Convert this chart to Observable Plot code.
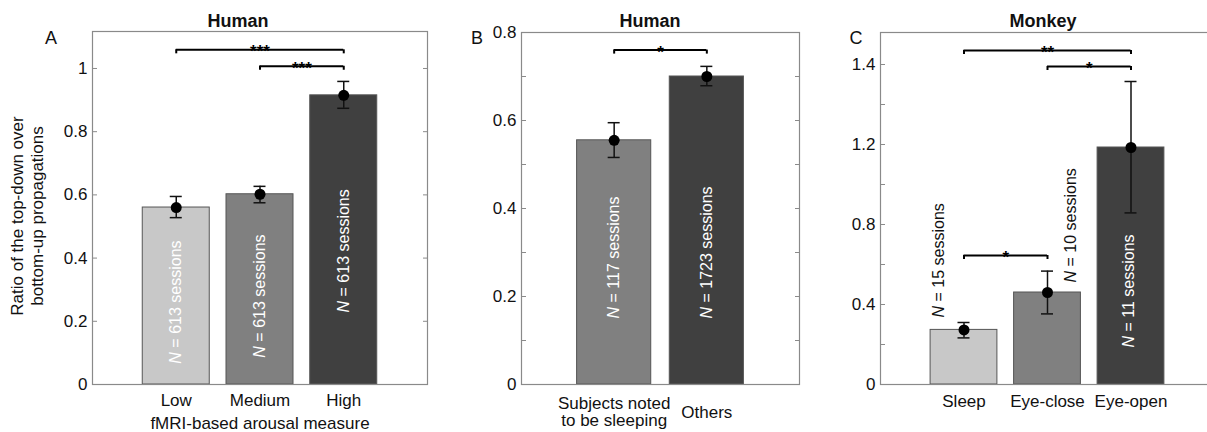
<!DOCTYPE html>
<html>
<head>
<meta charset="utf-8">
<script src="https://cdn.jsdelivr.net/npm/d3@7"></script>
<script src="https://cdn.jsdelivr.net/npm/@observablehq/plot@0.6"></script>
<style>
  html, body { margin: 0; padding: 0; background: #fff; overflow: hidden; }
  #root { position: relative; width: 1207px; height: 432px; overflow: hidden; background: #fff;
          font-family: "Liberation Sans", Arial, Helvetica, sans-serif; color: #111; }
  .panel { position: absolute; top: 0; height: 432px; }
  .panel svg { max-width: none !important; display: block; }
  .ov { position: absolute; white-space: nowrap; transform: translate(-50%, -50%); }
  .title { font-weight: bold; font-size: 18px; }
  .letter { font-size: 18px; }
  .ytitle { font-size: 17px; line-height: 20px; text-align: center; transform: translate(-50%, -50%) rotate(-90deg); }
</style>
</head>
<body>
<div id="root"></div>
<script>
// ---------------- data ----------------
// Panel A: Human, fMRI-based arousal measure
const A_categories = ["Low", "Medium", "High"];
const A_means      = [0.560, 0.602, 0.915];
const A_errLow     = [0.528, 0.575, 0.874];
const A_errHigh    = [0.595, 0.627, 0.959];
const A_counts     = ["N = 613 sessions", "N = 613 sessions", "N = 613 sessions"];
const A_tickValues = [0, 0.2, 0.4, 0.6, 0.8, 1];
const A_tickLabels = ["0", "0.2", "0.4", "0.6", "0.8", "1"];
const A_bracketFrom  = ["Low", "Medium"];
const A_bracketTo    = ["High", "High"];
const A_bracketY     = [1.059, 1.007];
const A_bracketStars = ["***", "***"];

// Panel B: Human, sleeping vs others
const B_categories = ["Subjects noted\nto be sleeping", "Others"];
const B_means      = [0.555, 0.700];
const B_errLow     = [0.516, 0.679];
const B_errHigh    = [0.595, 0.723];
const B_counts     = ["N = 117 sessions", "N = 1723 sessions"];
const B_tickValues = [0, 0.1, 0.2, 0.3, 0.4, 0.5, 0.6, 0.7, 0.8];
const B_tickLabels = ["0", "", "0.2", "", "0.4", "", "0.6", "", "0.8"];
const B_bracketFrom  = ["Subjects noted\nto be sleeping"];
const B_bracketTo    = ["Others"];
const B_bracketY     = [0.76];
const B_bracketStars = ["*"];

// Panel C: Monkey
const C_categories = ["Sleep", "Eye-close", "Eye-open"];
const C_means      = [0.273, 0.460, 1.185];
const C_errLow     = [0.233, 0.353, 0.858];
const C_errHigh    = [0.310, 0.567, 1.515];
const C_counts     = ["N = 15 sessions", "N = 10 sessions", "N = 11 sessions"];
const C_tickValues = [0, 0.2, 0.4, 0.6, 0.8, 1.0, 1.2, 1.4, 1.6];
const C_tickLabels = ["0", "", "0.4", "", "0.8", "", "1.2", "", "1.4"];
const C_bracketFrom  = ["Sleep", "Eye-close", "Sleep"];
const C_bracketTo    = ["Eye-open", "Eye-open", "Eye-close"];
const C_bracketY     = [1.67, 1.59, 0.645];
const C_bracketStars = ["**", "*", "*"];

// ---------------- styles / layout ----------------
const FONT = '"Liberation Sans", Arial, Helvetica, sans-serif';
const shades3 = ["#c8c8c8", "#808080", "#404040"];
const shades2 = ["#808080", "#404040"];

function drawPanel(cfg) {
  const data = cfg.cats.map((c, i) => ({
    cat: c, pos: i + 1, mean: cfg.means[i], lo: cfg.lo[i], hi: cfg.hi[i],
    fill: cfg.fills[i], label: cfg.counts[i],
    lx: (i + 1) + cfg.labelShift[i], ly: cfg.labelY[i], lc: cfg.labelColors[i]
  }));
  const br = cfg.bFrom.map((f, i) => ({
    from: cfg.cats.indexOf(f) + 1, to: cfg.cats.indexOf(cfg.bTo[i]) + 1,
    y: cfg.bY[i], stars: cfg.bStars[i]
  }));
  const innerW = cfg.width - cfg.ml - cfg.mr;
  const innerH = cfg.height - cfg.mt - cfg.mb;
  const ppx = innerW / cfg.xMax, ppy = innerH / cfg.yMax;
  const cap = 6 / ppx, hook = 4 / ppy;
  const labelMap = new Map(cfg.tickValues.map((v, i) => [v, cfg.tickLabels[i]]));
  const marks = [
    Plot.rect(data, {x1: d => d.pos - 0.4, x2: d => d.pos + 0.4, y1: 0, y2: "mean",
      fill: d => d.fill, stroke: "#555", strokeWidth: 1}),
    Plot.text(data, {x: "lx", y: "ly", text: "label", rotate: -90, textAnchor: "start",
      fill: d => d.lc, fontSize: 16}),
    Plot.ruleX(data, {x: "pos", y1: "lo", y2: "hi", stroke: "#111", strokeWidth: 1.5}),
    Plot.ruleY(data, {y: "hi", x1: d => d.pos - cap, x2: d => d.pos + cap, stroke: "#111", strokeWidth: 1.5}),
    Plot.ruleY(data, {y: "lo", x1: d => d.pos - cap, x2: d => d.pos + cap, stroke: "#111", strokeWidth: 1.5}),
    Plot.dot(data, {x: "pos", y: "mean", r: 5.5, fill: "#000", stroke: null}),
    Plot.ruleY(br, {y: "y", x1: "from", x2: "to", stroke: "#000", strokeWidth: 2}),
    Plot.ruleX(br, {x: "from", y1: "y", y2: d => d.y - hook, stroke: "#000", strokeWidth: 2}),
    Plot.ruleX(br, {x: "to", y1: "y", y2: d => d.y - hook, stroke: "#000", strokeWidth: 2}),
    Plot.text(br, {x: d => (d.from + d.to) / 2, y: "y", text: "stars", fontSize: 17, fontWeight: "bold", dy: 2, fill: "#000"}),
    Plot.axisY({anchor: "left", ticks: cfg.tickValues, tickFormat: v => labelMap.get(v) ?? "",
      tickSize: -5, tickPadding: 10, stroke: "#8a8a8a", fill: "#111", fontSize: 17, label: null}),
    Plot.axisY({anchor: "right", ticks: cfg.tickValues, tickFormat: () => "",
      tickSize: -5, stroke: "#8a8a8a", label: null}),
    Plot.frame({stroke: "#8a8a8a", strokeWidth: 1.2}),
    Plot.text(data, {x: "pos", text: "cat", frameAnchor: "bottom", dy: cfg.xLabelDy,
      lineAnchor: "middle", fontSize: 17, fill: "#111"})
  ];
  if (cfg.xTitle) {
    marks.push(Plot.text([cfg.xTitle], {text: d => d, frameAnchor: "bottom", dy: 39,
      lineAnchor: "middle", fontSize: 17, fill: "#111"}));
  }
  const svg = Plot.plot({
    width: cfg.width, height: cfg.height,
    marginLeft: cfg.ml, marginRight: cfg.mr, marginTop: cfg.mt, marginBottom: cfg.mb,
    x: {type: "linear", domain: [0, cfg.xMax], axis: null},
    y: {type: "linear", domain: [0, cfg.yMax], axis: null},
    style: {fontFamily: FONT, fontSize: "17px", color: "#111", background: "transparent",
            overflow: "visible", maxWidth: "none"},
    marks
  });
  svg.style.width = cfg.width + "px";
  svg.style.height = cfg.height + "px";
  // italic "N" in the session-count labels
  svg.querySelectorAll("text").forEach(t => {
    if (t.children.length === 0 && t.textContent.startsWith("N = ")) {
      const rest = t.textContent.slice(1);
      t.textContent = "";
      const a = document.createElementNS("http://www.w3.org/2000/svg", "tspan");
      a.setAttribute("font-style", "italic");
      a.textContent = "N";
      const b = document.createElementNS("http://www.w3.org/2000/svg", "tspan");
      b.textContent = rest;
      t.appendChild(a); t.appendChild(b);
    }
  });
  return svg;
}

const root = document.getElementById("root");
function place(svg, left, width) {
  const d = document.createElement("div");
  d.className = "panel";
  d.style.left = left + "px";
  d.style.width = width + "px";
  d.appendChild(svg);
  root.appendChild(d);
}
function overlay(text, x, y, cls) {
  const d = document.createElement("div");
  d.className = "ov " + cls;
  d.style.left = x + "px";
  d.style.top = y + "px";
  d.innerHTML = text;
  root.appendChild(d);
}

place(drawPanel({
  cats: A_categories, means: A_means, lo: A_errLow, hi: A_errHigh, counts: A_counts,
  fills: shades3, labelColors: ["#fff", "#fff", "#fff"],
  labelShift: [0, 0, 0], labelY: [0.066, 0.085, 0.228],
  bFrom: A_bracketFrom, bTo: A_bracketTo, bY: A_bracketY, bStars: A_bracketStars,
  tickValues: A_tickValues, tickLabels: A_tickLabels,
  width: 440, height: 432, ml: 92, mr: 13, mt: 31, mb: 48, xMax: 4, yMax: 1.117,
  xLabelDy: 16, xTitle: "fMRI-based arousal measure"
}), 0, 440);

place(drawPanel({
  cats: B_categories, means: B_means, lo: B_errLow, hi: B_errHigh, counts: B_counts,
  fills: shades2, labelColors: ["#fff", "#fff"],
  labelShift: [0, 0], labelY: [0.15, 0.15],
  bFrom: B_bracketFrom, bTo: B_bracketTo, bY: B_bracketY, bStars: B_bracketStars,
  tickValues: B_tickValues, tickLabels: B_tickLabels,
  width: 360, height: 432, ml: 81, mr: 1, mt: 32, mb: 48, xMax: 3, yMax: 0.8,
  xLabelDy: 28
}), 440, 360);

place(drawPanel({
  cats: C_categories, means: C_means, lo: C_errLow, hi: C_errHigh, counts: C_counts,
  fills: shades3, labelColors: ["#111", "#111", "#fff"],
  labelShift: [-0.3, 0.275, -0.03], labelY: [0.335, 0.51, 0.185],
  bFrom: C_bracketFrom, bTo: C_bracketTo, bY: C_bracketY, bStars: C_bracketStars,
  tickValues: C_tickValues, tickLabels: C_tickLabels,
  width: 414, height: 432, ml: 80, mr: 0, mt: 32, mb: 48, xMax: 4, yMax: 1.76,
  xLabelDy: 17
}), 800, 414);

overlay("Human", 238, 21, "title");
overlay("Human", 650, 21, "title");
overlay("Monkey", 1043, 21, "title");
overlay("A", 51, 38, "letter");
overlay("B", 477, 38, "letter");
overlay("C", 856, 38, "letter");
overlay("Ratio of the top-down over<br>bottom-up propagations", 28, 216, "ytitle");
</script>
</body>
</html>
